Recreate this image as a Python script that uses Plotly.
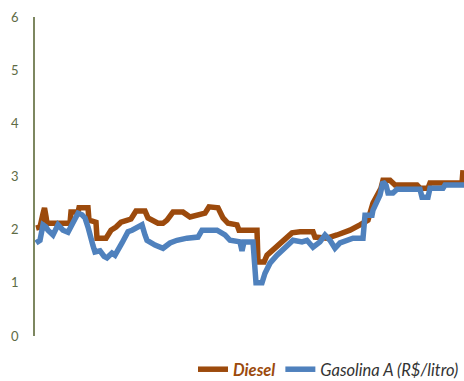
import plotly.graph_objects as go

# period index (weeks from start of the series)
diesel_t = [1, 5, 8, 9.5, 11, 12, 35, 36, 43, 44, 53, 54, 61, 62, 71, 76, 81, 86, 91, 96, 101, 110,
            113, 118, 123, 128, 132, 138, 148, 155, 162, 170, 174, 183, 188, 193, 202, 204, 222, 223,
            229, 232, 238, 243, 248, 257, 265, 278, 280, 292, 302, 315, 325, 333, 338, 343, 346, 348,
            355, 360, 382, 385, 393, 395, 427, 428]
diesel = [2.03, 2.05, 2.30, 2.41, 2.25, 2.12, 2.12, 2.33, 2.33, 2.41, 2.41, 2.18, 2.14, 1.84, 1.84,
          1.99, 2.05, 2.14, 2.17, 2.20, 2.35, 2.35, 2.22, 2.18, 2.12, 2.12, 2.18, 2.33, 2.33, 2.24,
          2.27, 2.31, 2.43, 2.41, 2.22, 2.12, 2.09, 1.99, 1.99, 1.39, 1.39, 1.52, 1.62, 1.70, 1.80,
          1.94, 1.96, 1.96, 1.86, 1.84, 1.90, 1.99, 2.09, 2.18, 2.50, 2.69, 2.78, 2.93, 2.93, 2.84,
          2.84, 2.78, 2.78, 2.88, 2.88, 3.12]

gas_t = [1, 5, 8, 11, 13, 18, 23, 28, 33, 37, 41, 43, 47, 50, 53, 55, 58, 60, 65, 69, 72, 77, 80, 87,
         93, 97, 102, 107, 110, 112, 120, 128, 135, 142, 152, 163, 167, 182, 190, 195, 205, 207, 209,
         218, 221, 227, 230, 235, 242, 252, 258, 267, 272, 278, 285, 290, 295, 300, 305, 318, 328, 330,
         337, 338, 342, 345, 348, 351, 353, 358, 362, 385, 387, 393, 395, 408, 410, 429]
gasolina = [1.75, 1.80, 2.09, 2.05, 1.99, 1.90, 2.09, 1.99, 1.95, 2.09, 2.25, 2.31, 2.28, 2.22, 2.05,
            1.94, 1.70, 1.58, 1.60, 1.50, 1.47, 1.56, 1.52, 1.75, 1.96, 1.99, 2.03, 2.09, 1.90, 1.80,
            1.71, 1.65, 1.75, 1.80, 1.84, 1.86, 1.99, 1.99, 1.90, 1.80, 1.77, 1.60, 1.77, 1.77, 1.00,
            1.00, 1.18, 1.37, 1.52, 1.71, 1.80, 1.77, 1.80, 1.67, 1.77, 1.90, 1.80, 1.65, 1.75, 1.84,
            1.84, 2.27, 2.27, 2.37, 2.56, 2.65, 2.90, 2.84, 2.69, 2.69, 2.76, 2.76, 2.61, 2.61, 2.78,
            2.78, 2.84, 2.84]

y_ticks = [0, 1, 2, 3, 4, 5, 6]

BROWN = "#9C4A0C"
BLUE = "#4F81BD"

fig = go.Figure()
fig.add_trace(go.Scatter(
    x=diesel_t, y=diesel, mode="lines",
    line=dict(color=BROWN, width=5.5),
    name="<b><i><span style='color:%s'>Diesel</span></i></b>" % BROWN,
))
fig.add_trace(go.Scatter(
    x=gas_t, y=gasolina, mode="lines",
    line=dict(color=BLUE, width=5.5),
    name="<i>Gasolina A (R$/litro)</i>",
))

fig.update_layout(
    width=464, height=381,
    margin=dict(l=35, r=0, t=17, b=45, autoexpand=False),
    paper_bgcolor="white", plot_bgcolor="white",
    font=dict(family="Lato, Open Sans, sans-serif", size=13, color="#333333"),
    showlegend=True,
    legend=dict(
        orientation="h", x=1.0, xanchor="right", y=-0.105, yanchor="middle",
        font=dict(size=16.5, color="#333333"),
        itemwidth=30, tracegroupgap=0,
        bgcolor="rgba(0,0,0,0)",
    ),
    xaxis=dict(range=[0, 429], visible=False, fixedrange=True),
    yaxis=dict(
        range=[0, 6], tickvals=y_ticks, ticktext=[str(v) for v in y_ticks],
        showgrid=False, zeroline=False,
        showline=True, linecolor="#7D8760", linewidth=1.5,
        ticks="", ticklabelstandoff=12,
        tickfont=dict(color="#5E6B45", size=13),
    ),
)

fig.write_html("out.html")
